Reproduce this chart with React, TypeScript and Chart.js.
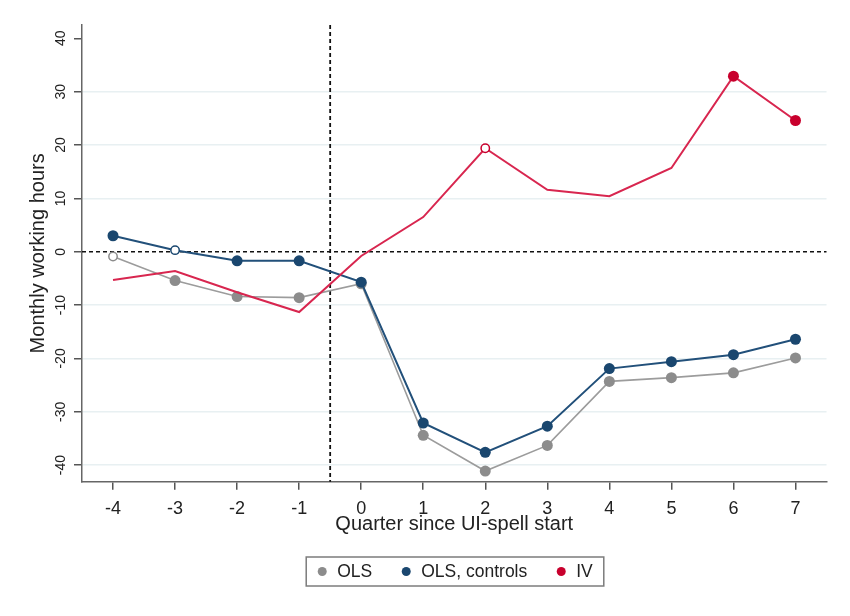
import React, { useEffect, useRef } from 'react';
import { Chart, registerables } from 'chart.js';

Chart.register(...registerables);

// ---------- data ----------
const quarters = [-4, -3, -2, -1, 0, 1, 2, 3, 4, 5, 6, 7];
const olsValues = [-0.9, -5.4, -8.4, -8.6, -6.0, -34.4, -41.1, -36.3, -24.3, -23.6, -22.7, -19.9];
const olsControlsValues = [3.0, 0.3, -1.7, -1.7, -5.7, -32.1, -37.6, -32.7, -21.9, -20.6, -19.3, -16.4];
const ivValues = [-5.3, -3.6, -7.6, -11.3, -0.8, 6.5, 19.4, 11.6, 10.4, 15.7, 32.9, 24.6];
// marker kind per point: filled / hollow / none
const olsMarkers = ['hollow', 'filled', 'filled', 'filled', 'filled', 'filled', 'filled', 'filled', 'filled', 'filled', 'filled', 'filled'];
const olsControlsMarkers = ['filled', 'hollow', 'filled', 'filled', 'filled', 'filled', 'filled', 'filled', 'filled', 'filled', 'filled', 'filled'];
const ivMarkers = ['none', 'none', 'none', 'none', 'none', 'none', 'hollow', 'none', 'none', 'none', 'filled', 'filled'];
const xTicks = [-4, -3, -2, -1, 0, 1, 2, 3, 4, 5, 6, 7];
const yTicks = [-40, -30, -20, -10, 0, 10, 20, 30, 40];
const seriesLabels = ['OLS', 'OLS, controls', 'IV'];
const xTitle = 'Quarter since UI-spell start';
const yTitle = 'Monthly working hours';
const eventLine = -0.5;

const FONT = '"Liberation Sans", Arial, Helvetica, sans-serif';
const GRAY = '#8c8c8c';
const GRAY_LINE = '#9c9c9c';
const NAVY = '#1a476f';
const NAVY_LINE = '#22507a';
const RED = '#c8002d';
const RED_LINE = '#d8264f';
const TEXT = '#222222';

function makeDataset(label: string, values: number[], markers: string[], color: string, lineColor: string, width: number, order: number) {
  return {
    label,
    data: quarters.map((q, i) => ({ x: q, y: values[i] })),
    borderColor: lineColor,
    borderWidth: width,
    tension: 0,
    fill: false,
    order,
    pointStyle: 'circle',
    pointRadius: markers.map((m) => (m === 'none' ? 0 : m === 'hollow' ? 4.2 : 5.5)),
    pointHoverRadius: 0,
    pointBackgroundColor: markers.map((m) => (m === 'hollow' ? '#ffffff' : color)),
    pointBorderColor: color,
    pointBorderWidth: markers.map((m) => (m === 'hollow' ? 1.5 : 0)),
  };
}

const overlayPlugin = {
  id: 'stataOverlay',
  beforeDatasetsDraw(chart: any) {
    const { ctx, chartArea, scales } = chart;
    const xs = scales.x;
    const ys = scales.y;
    ctx.save();
    ctx.strokeStyle = '#111111';
    ctx.setLineDash([4, 3]);
    ctx.lineWidth = 1.6;
    const y0 = ys.getPixelForValue(0);
    ctx.beginPath();
    ctx.moveTo(chartArea.left, y0);
    ctx.lineTo(chartArea.right, y0);
    ctx.stroke();
    const xv = xs.getPixelForValue(eventLine);
    ctx.lineWidth = 1.8;
    ctx.beginPath();
    ctx.moveTo(xv, chartArea.top);
    ctx.lineTo(xv, chartArea.bottom);
    ctx.stroke();
    ctx.restore();
  },
  afterDraw(chart: any) {
    const { ctx, scales } = chart;
    const ys = scales.y;
    ctx.save();
    // rotated y tick labels
    ctx.fillStyle = TEXT;
    ctx.font = `14px ${FONT}`;
    ctx.textAlign = 'center';
    ctx.textBaseline = 'middle';
    yTicks.forEach((v) => {
      const py = ys.getPixelForValue(v);
      ctx.save();
      ctx.translate(61, py);
      ctx.rotate(-Math.PI / 2);
      ctx.fillText(String(v), 0, 0);
      ctx.restore();
    });

    // legend
    const colors = [GRAY, NAVY, RED];
    ctx.font = `17.5px ${FONT}`;
    const widths = seriesLabels.map((l) => ctx.measureText(l).width);
    const padL = 16, dotGap = 15, itemGap = 34, padR = 11;
    const total = padL + widths.reduce((a, w) => a + dotGap + w, 0) + itemGap * (seriesLabels.length - 1) + padR;
    const cx = 455;
    const left = cx - total / 2;
    const top = 557;
    const h = 29;
    ctx.strokeStyle = '#7c7c7c';
    ctx.lineWidth = 1.5;
    ctx.strokeRect(left, top, total, h);
    let x = left + padL;
    const cy = top + h / 2;
    seriesLabels.forEach((l, i) => {
      ctx.fillStyle = colors[i];
      ctx.beginPath();
      ctx.arc(x, cy, 4.5, 0, Math.PI * 2);
      ctx.fill();
      ctx.fillStyle = TEXT;
      ctx.textAlign = 'left';
      ctx.fillText(l, x + dotGap, cy + 1);
      x += dotGap + widths[i] + itemGap;
    });

    // faint outer frame
    ctx.strokeStyle = '#e8e8e8';
    ctx.lineWidth = 1;
    ctx.strokeRect(1.5, 1.5, 847, 613);
    ctx.restore();
  },
};

export default function App() {
  const canvasRef = useRef<HTMLCanvasElement | null>(null);

  useEffect(() => {
    const canvas = canvasRef.current;
    if (!canvas) return;
    const chart = new Chart(canvas, {
      type: 'line',
      data: {
        datasets: [
          makeDataset(seriesLabels[0], olsValues, olsMarkers, GRAY, GRAY_LINE, 1.6, 2),
          makeDataset(seriesLabels[1], olsControlsValues, olsControlsMarkers, NAVY, NAVY_LINE, 2, 1),
          makeDataset(seriesLabels[2], ivValues, ivMarkers, RED, RED_LINE, 2, 0),
        ] as any,
      },
      options: {
        animation: false,
        responsive: false,
        devicePixelRatio: 1,
        events: [],
        layout: { padding: { top: 25, right: 23.5, bottom: 80, left: 0 } },
        plugins: {
          legend: { display: false },
          tooltip: { enabled: false },
        },
        scales: {
          x: {
            type: 'linear',
            min: -4.5,
            max: 7.5,
            afterBuildTicks: (s: any) => {
              s.ticks = xTicks.map((v) => ({ value: v }));
            },
            afterFit: (s: any) => {
              s.height = 54.3;
            },
            ticks: {
              autoSkip: false,
              maxRotation: 0,
              minRotation: 0,
              padding: 9,
              color: TEXT,
              font: { family: FONT, size: 18 },
              callback: (v: any) => String(v),
            },
            grid: {
              drawOnChartArea: false,
              drawTicks: true,
              tickLength: 8,
              color: '#555555',
              tickColor: '#555555',
              lineWidth: 1.5,
              tickWidth: 1.5,
            },
            border: { display: true, color: '#666666', width: 1.5 },
            title: {
              display: true,
              text: xTitle,
              color: TEXT,
              font: { family: FONT, size: 20 },
              padding: { top: 0, bottom: 0 },
            },
          },
          y: {
            type: 'linear',
            min: -43.1,
            max: 42.5,
            afterBuildTicks: (s: any) => {
              s.ticks = yTicks.map((v) => ({ value: v }));
            },
            afterFit: (s: any) => {
              s.width = 82;
            },
            ticks: { display: false },
            grid: {
              drawOnChartArea: true,
              drawTicks: true,
              tickLength: 8,
              color: (c: any) =>
                c.tick && (c.tick.value === 0 || c.tick.value === 40) ? 'rgba(0,0,0,0)' : '#e8f0f2',
              tickColor: '#555555',
              lineWidth: 1.5,
              tickWidth: 1.5,
            },
            border: { display: true, color: '#666666', width: 1.5 },
            title: {
              display: true,
              text: yTitle,
              color: TEXT,
              font: { family: FONT, size: 20 },
              padding: { top: 26, bottom: 0 },
            },
          },
        },
      } as any,
      plugins: [overlayPlugin],
    });
    return () => chart.destroy();
  }, []);

  return (
    <div style={{ margin: '-8px', width: 850, height: 616, overflow: 'hidden', background: '#ffffff' }}>
      <canvas ref={canvasRef} width={850} height={616} style={{ display: 'block', width: 850, height: 616 }} />
    </div>
  );
}
